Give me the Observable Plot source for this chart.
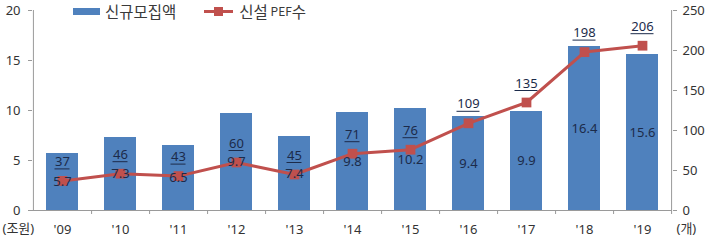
<!DOCTYPE html>
<html><head><meta charset="utf-8">
<script src="https://cdn.jsdelivr.net/npm/d3@7"></script>
<script src="https://cdn.jsdelivr.net/npm/@observablehq/plot@0.6"></script>
<style>
body{margin:0;background:#fff;font-family:"Noto Sans CJK KR","Noto Sans",sans-serif;}
#wrap{position:relative;width:710px;height:240px;}
#legend{position:absolute;top:1px;left:73px;height:20px;line-height:20px;display:flex;align-items:center;font-size:15.5px;color:#3a3a3a;}
.sw-bar{display:inline-block;width:27px;height:7px;background:#4f81bd;margin-right:5px;}
.sw-line{position:relative;display:inline-block;width:29px;height:3px;background:#c0504d;margin-left:28px;margin-right:6px;}
.sw-line::after{content:"";position:absolute;left:10px;top:-3px;width:9px;height:9px;background:#c0504d;}
.small{font-size:12px;}
</style></head>
<body><div id="wrap"><div id="legend"><span class="sw-bar"></span>신규모집액<span class="sw-line"></span>신설 <span class="small">&nbsp;PEF</span>수</div></div>
<script>
const years = ["'09","'10","'11","'12","'13","'14","'15","'16","'17","'18","'19"];
const amounts = [5.7,7.3,6.5,9.7,7.4,9.8,10.2,9.4,9.9,16.4,15.6];
const pefCounts = [37,46,43,60,45,71,76,109,135,198,206];
const leftTicks = [0,5,10,15,20];
const rightTicks = [0,50,100,150,200,250];
const leftUnit = "(조원)";
const rightUnit = "(개)";

const k = 20/250;
const data = years.map((y,i)=>({year:y, amount:amounts[i], pef:pefCounts[i], pefS:pefCounts[i]*k}));
const W = 710, mL = 32, mR = 38;
const step = (W - mL - mR)/years.length;
const ink = "#1c2b4a", axisCol = "#9a9a9a", lab = "#333";
const two = data.filter(d => d.pef < 100), three = data.filter(d => d.pef >= 100);

const chart = Plot.plot({
  width: W, height: 240,
  marginLeft: mL, marginRight: mR, marginTop: 10, marginBottom: 30,
  style: {fontFamily: '"Noto Sans","Noto Sans CJK KR",sans-serif', fontSize: "13px", color: lab, background: "#fff"},
  x: {domain: years, paddingInner: 0.45, paddingOuter: 0.225, label: null},
  y: {domain: [0,20], label: null},
  marks: [
    Plot.barY(data, {x: "year", y: "amount", fill: "#4f81bd"}),
    Plot.ruleY([0], {stroke: axisCol}),
    Plot.ruleX([years[0]], {dx: -step/2, y1: 0, y2: 20, stroke: axisCol}),
    Plot.ruleX([years[years.length-1]], {dx: step/2, y1: 0, y2: 20, stroke: axisCol}),
    Plot.ruleX(years, {dx: step/2, y1: 0, y2: -0.4, stroke: axisCol}),
    Plot.axisY(leftTicks, {anchor: "left", tickSize: 4, tickPadding: 8, stroke: axisCol, color: lab, label: null}),
    Plot.axisY(rightTicks.map(t=>t*k), {anchor: "right", tickSize: 4, tickPadding: 6, stroke: axisCol, color: lab, label: null, tickFormat: d => Math.round(d/k)}),
    Plot.axisX({tickSize: 0, tickPadding: 14, color: lab, label: null}),
    Plot.line(data, {x: "year", y: "pefS", stroke: "#c0504d", strokeWidth: 3}),
    Plot.dot(data, {x: "year", y: "pefS", symbol: "square", r: 5.5, fill: "#c0504d", stroke: "none"}),
    Plot.text(data, {x: "year", y: d => d.amount/2, text: d => d.amount.toFixed(1), fill: ink, fontSize: 13}),
    Plot.text(data, {x: "year", y: "pefS", text: d => String(d.pef), dy: -19, fill: ink, fontSize: 13}),
    Plot.ruleY(two, {x1: "year", x2: "year", y: "pefS", dy: -12, insetLeft: 8.5, insetRight: 8.5, stroke: ink, strokeWidth: 1}),
    Plot.ruleY(three, {x1: "year", x2: "year", y: "pefS", dy: -12, insetLeft: 4.5, insetRight: 4.5, stroke: ink, strokeWidth: 1}),
    Plot.text([leftUnit], {frameAnchor: "bottom-left", dx: -30, dy: 22, textAnchor: "start", fill: lab, fontSize: 13}),
    Plot.text([rightUnit], {frameAnchor: "bottom-right", dx: 4, dy: 22, textAnchor: "start", fill: lab, fontSize: 13})
  ]
});
document.getElementById("wrap").prepend(chart);
</script></body></html>
